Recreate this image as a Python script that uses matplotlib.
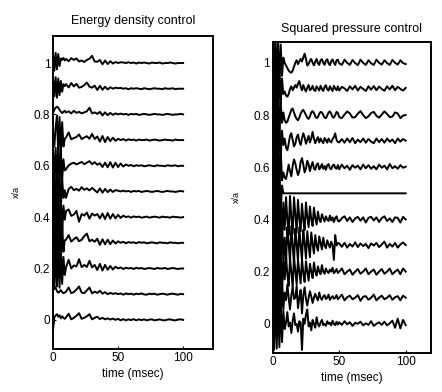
import matplotlib
matplotlib.use('Agg')
import matplotlib.pyplot as plt

plt.rcParams['font.family'] = ['Liberation Sans', 'DejaVu Sans']

# time samples (msec)
# energy panel: 1 ms over the initial burst, 2 ms after
time_e = list(range(0, 10)) + list(range(10, 101, 2))
# pressure panel: 1 ms up to 49 ms (spiky part), 2 ms after
time_p = list(range(0, 50)) + list(range(50, 101, 2))

# trace positions x/a
offsets = [0.0, 0.1, 0.2, 0.3, 0.4, 0.5, 0.6, 0.7, 0.8, 0.9, 1.0]

# deviations from each trace's baseline, in thousandths of x/a
# energy density control (bottom trace first)
energy = [
    [-40, 10, 18, 22, 12, 18, 6, 14, 8, 4,
     10, 24, 2, 8, 16, 26, 4, 8, 14, 22, 2, 8, 12, 3, 8, 2, 6, 1, 5, 0,
     4, -2, 3, -2, 2, -1, 3, -2, 2, -1, 2, -2, 1, 2, -2, 0, 2, -1, -2, 1, 2, -1, -2, 1, 2, 0],
    [15, 30, 25, 12, 6, 10, 16, 8, 4, 6,
     10, 26, 4, 8, 18, 30, 6, 4, 15, 26, 3, 10, 5, 13, 2, 8, 0, 5, 1, 4,
     0, 3, -2, 3, 0, 2, -2, 2, 0, 3, -1, -2, 2, 0, 2, -2, 0, 2, 0, -2, 1, 2, 0, -2, 1, 0],
    [70, -80, 90, -70, 85, -75, 80, -60, 45, -25,
     5, 34, 0, 12, 8, 36, 5, 14, 6, 30, 4, 14, -6, 18, -8, 14, -5, 10, -4, 7,
     0, 4, -2, 3, 0, 2, -2, 3, 0, 2, -2, 0, 2, 0, -2, 2, 0, 0, 2, -2, 0, 2, 0, -2, 0, 0],
    [-70, 80, -85, 90, -80, 85, -70, 75, -35, 10,
     12, 30, 5, 14, 22, 6, 12, 26, 36, 6, 12, 4, 16, -8, 14, -6, 12, -5, 9, -3,
     6, 0, 4, -2, 3, 0, 2, -2, 3, 0, 2, -2, 0, 2, 0, -2, 2, 0, 0, -2, 2, 0, 0, -2, 0, 0],
    [80, -70, 85, -90, 80, -85, 70, -65, 45, -10,
     24, 30, 5, 10, 24, -18, 12, 6, 18, -6, 14, 6, 12, -5, 14, -8, 16, -6, 12, -5,
     9, -3, 6, 0, 3, -2, 3, 0, 2, -2, 0, 2, -2, 0, 2, 0, -2, 2, 0, 0, -2, 2, 0, 0, -2, 0],
    [-75, 80, -80, 85, -70, 70, -65, 50, -25, 5,
     -25, 10, 18, 5, 10, 3, 17, 6, 12, 4, 14, 5, -4, 12, -5, 10, -3, 7, -2, 5,
     3, 0, 3, 0, 2, -2, 2, 0, 2, -2, 0, 2, 0, -2, 0, 2, 0, -2, 0, 2, 0, 0, -2, 0, 2, 0],
    [60, -50, 70, -65, 75, -60, 65, -55, 25, -18,
     -14, 2, 8, 12, 5, 10, 15, 6, 12, 18, 6, 14, 4, 10, -5, 12, -6, 14, -7, 12,
     -5, 9, -3, 5, 0, 3, -2, 2, 0, 2, -2, 0, 2, 0, -2, 2, 0, 0, -2, 2, 0, 0, 2, -2, 0, 0],
    [25, -25, 50, 95, -55, 90, -45, 70, -25, 5,
     10, 30, 3, 8, 12, 22, 4, 10, 15, 5, 24, 4, 14, -6, 16, -8, 12, -4, 9, -3,
     5, 0, 4, -2, 3, 0, 2, -2, 2, 0, 0, 2, -2, 0, 2, 0, -2, 0, 2, 0, 0, -2, 2, 0, 0, 0],
    [5, 18, 26, 30, 26, 18, 10, 5, 10, 14,
     7, 12, 4, 14, 6, 10, 4, 8, 12, 26, 4, 8, 2, 10, -4, 8, -3, 6, -2, 4,
     0, 3, 0, 2, -2, 2, 0, 2, -2, 0, 2, 0, -2, 0, 2, 0, 0, -2, 0, 2, 0, -2, 0, 0, 2, 0],
    [40, -30, 45, -35, 40, -25, 30, -12, 18, 10,
     18, 5, 22, 9, 19, 4, 7, 14, 24, 8, 4, 12, -5, 11, -4, 8, -3, 6, 0, 4,
     2, 3, 0, 2, -2, 2, 0, 2, 0, -2, 2, 0, -2, 0, 2, 0, 0, -2, 2, 0, 0, 2, -2, 0, 0, 0],
    [35, -30, 40, -25, 35, -12, 18, 12, 20, 10,
     16, 7, 19, 12, 18, 6, 10, 4, 12, 17, 28, 6, 5, 12, -5, 10, -4, 7, -2, 4,
     0, 3, 2, 0, 3, 0, 2, -2, 2, 0, 2, 0, -2, 2, 0, 0, 2, -2, 0, 0, 2, 0, -2, 0, 0, 0],
]

# squared pressure control (bottom trace first)
pressure = [
    [100, -100, 105, -95, 110, -90, 95, -70, 50, -20,
     5, 45, -10, 5, -35, 10, 40, -5, 0, -30,
     10, 5, -100, 20, 0, 35, 55, -10, 5, -25,
     15, 0, -15, 25, 0, -10, 5, 15, -5, 0,
     -8, 10, 0, 4, -6, 12, 0, -5, 8, -3,
     6, -4, 10, -2, 6, -8, 4, 0, 8, -6, 2, -4, 10, -8, 0, 6, -4, 8, -6, 2, 12, -15, 20, -18, 15, -5],
    [-105, 100, -95, 110, -100, 95, -85, 70, -45, 20,
     -10, 50, 0, -45, 10, 40, -5, 0, 45, -40,
     0, 30, -60, 10, 40, -5, -30, 0, 25, 5,
     -20, 0, 15, 0, -10, 20, 0, -8, 5, 10,
     -5, 0, 12, -8, 0, 6, -4, 0, 10, -6,
     0, 12, -10, 2, 8, -6, 0, 10, -12, 4, 6, -8, 0, 12, -10, 0, 8, -6, 0, 10, -8, 2, 6, -10, 8, 0],
    [100, -105, 95, -110, 100, -90, 85, -75, 55, -30,
     60, -10, -55, 50, 0, -60, 55, 5, -50, 45,
     0, -45, 50, -5, -40, 40, 0, -35, 30, 0,
     -25, 35, 0, -15, 20, 0, -10, 25, 0, -8,
     12, 0, -5, 8, 0, 15, -6, 0, 10, -5,
     0, 12, -10, 0, 8, -12, 0, 10, -8, 0, 12, -10, 0, 8, -12, 0, 10, -8, 0, 12, -10, 0, 8, -10, 12, 0],
    [-100, 105, -110, 100, -95, 90, -85, 75, -50, 30,
     -70, 70, 10, -65, 75, 0, -70, 65, 5, -60,
     70, 0, -55, 60, 10, -50, 55, 0, -45, 50,
     5, -30, 40, 0, -20, 35, 10, -15, 30, 0,
     -10, 20, 5, -8, 15, 0, -55, 40, 0, 10,
     8, -5, 10, -8, 6, -4, 12, -6, 8, -2, 6, -10, 8, 0, 10, -6, 4, 15, -8, 6, -4, 10, -8, 4, 12, 2],
    [105, -100, 110, -105, 100, -95, 95, -85, 65, -40,
     85, 0, -60, 90, 10, -55, 85, 20, -50, 75,
     5, -45, 60, 0, -40, 65, 10, -30, 50, 0,
     -25, 45, 5, -20, 30, 0, -10, 20, 5, -8,
     12, 0, -6, 15, -4, 8, -10, 5, 12, -5,
     -8, 5, 12, -6, 8, -10, 4, 10, -5, 8, -12, 6, 10, -4, 8, -10, 5, 12, -6, 4, -10, 8, 6, -12, 10, 0],
    [-100, 110, -105, 100, -95, 90, -70, 30, 0, 0,
     0, 0, 0, 0, 0, 0, 0, 0, 0, 0,
     0, 0, 0, 0, 0, 0, 0, 0, 0, 0,
     0, 0, 0, 0, 0, 0, 0, 0, 0, 0,
     0, 0, 0, 0, 0, 0, 0, 0, 0, 0,
     0, 0, 0, 0, 0, 0, 0, 0, 0, 0, 0, 0, 0, 0, 0, 0, 0, 0, 0, 0, 0, 0, 0, 0, 0, 0],
    [95, -100, 105, -95, 90, -85, 70, -50, -20, -40,
     -45, -20, 10, -15, -35, 5, 30, 15, -10, -30,
     -15, 20, 35, 10, -20, -5, 25, 10, -15, 5,
     20, -5, -10, 10, 15, -8, 0, 12, -6, 5,
     -10, 8, 12, -4, -8, 6, 10, -2, -6, 8,
     -8, 10, -4, 6, -10, 8, -2, 6, -8, 10, -4, 8, -6, 4, -8, 10, -2, 6, -8, 12, -4, 4, -6, 8, -2, 2],
    [-100, 95, -110, 100, -90, 80, -60, 40, -15, 10,
     -25, -35, -10, 20, 30, 5, -20, -10, 15, 25,
     0, -15, 10, 30, 15, -10, 5, 20, -5, 10,
     35, 10, -8, 5, 15, -5, 10, 0, -8, 12,
     4, -6, 10, 0, -5, 8, 15, 30, 5, -4,
     -5, 8, -6, 10, -4, 12, -8, 6, -4, 10, -6, 8, -2, -8, 10, -4, 8, -6, 10, -2, 6, -8, 10, -2, 8, 2],
    [100, -95, 105, -90, 85, -70, 50, -30, 10, -20,
     -30, -25, -10, 5, 20, 25, 10, -5, -15, -20,
     -10, 5, 15, 20, 10, 0, -10, -15, -5, 10,
     15, 8, -5, -12, -8, 5, 12, 10, 0, -10,
     -12, -2, 10, 14, 5, -8, -10, 0, 12, 8,
     -8, -12, 2, 14, 6, -10, -8, 5, 15, 0, -12, -5, 8, 12, -3, -10, 2, 14, 4, -8, -6, 10, 6, -12, -2, 0],
    [-90, 100, -110, 95, -90, 80, -60, 40, -20, -10,
     -25, -30, -20, 0, 10, -5, 5, 15, 5, 20,
     30, 10, -5, 15, 0, -10, 5, 15, -5, 0,
     12, -4, -8, 10, 2, -6, 12, 0, -8, 8,
     14, -2, -6, 10, 0, -8, 12, 2, -5, 10,
     -6, 8, 2, -8, 10, -2, 12, -6, 8, 0, -8, 10, -3, 11, -5, 9, 0, -7, 10, -2, 12, -5, 8, 0, -6, 4],
    [100, -90, 110, -100, 90, -80, 70, -50, 20, 0,
     -10, -20, -30, -35, -38, -30, -15, 0, 10, -5,
     5, 15, 5, 20, 35, 15, -10, -5, 8, 15,
     0, -10, 5, 15, -2, -8, 10, 14, 0, -8,
     8, 14, -2, -9, 6, 13, 0, -8, 10, 12,
     -2, -8, 12, 0, -8, 11, -1, -9, 12, 0, -8, 10, -2, -8, 12, 0, -7, 10, -1, -8, 11, 0, -7, 10, -1, -5],
]

yticks = [0, 0.2, 0.4, 0.6, 0.8, 1]
yticklabels = ['0', '0.2', '0.4', '0.6', '0.8', '1']
xticks = [0, 50, 100]

fig = plt.figure(figsize=(4.42, 3.92), dpi=100)
ax1 = fig.add_axes([0.120, 0.110, 0.362, 0.798])
ax2 = fig.add_axes([0.617, 0.100, 0.358, 0.793])

panels = [
    (ax1, time_e, energy, 'Energy density control', (-0.113, 1.105), 123, 9),
    (ax2, time_p, pressure, 'Squared pressure control', (-0.111, 1.08), 119, 7),
]

for ax, t, traces, title, ylim, xmax, tpad in panels:
    for off, dev in zip(offsets, traces):
        ax.plot(t, [off + d / 1000 for d in dev], color='black', lw=1.4)
    ax.set_xlim(0, xmax)
    ax.set_ylim(*ylim)
    ax.set_xticks(xticks)
    ax.set_xticklabels([str(v) for v in xticks])
    ax.set_yticks(yticks)
    ax.set_yticklabels(yticklabels)
    ax.tick_params(direction='in', length=2.5, labelsize=8.5, pad=2)
    for s in ax.spines.values():
        s.set_linewidth(1.4)
    ax.set_title(title, fontsize=9, pad=tpad)
    ax.set_xlabel('time (msec)', fontsize=8.5, labelpad=3)
    ax.set_ylabel('x/a', fontsize=6.5, labelpad=9)

fig.savefig('out.png', dpi=100)
